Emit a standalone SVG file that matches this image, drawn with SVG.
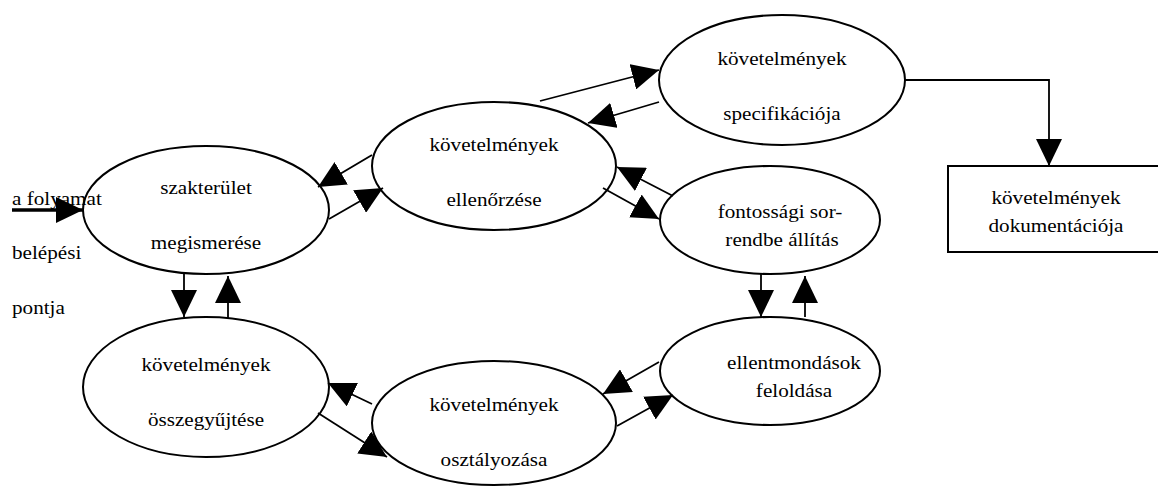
<svg xmlns="http://www.w3.org/2000/svg" width="1158" height="486" viewBox="0 0 1158 486">
  <style>
    .shape { fill: #fff; stroke: #000; stroke-width: 2; }
    text { font-family: 'Liberation Serif', 'Times New Roman', Times, serif; font-size: 19.5px; fill: #000; }
    .lbl { text-anchor: middle; }
    .conn { fill: none; stroke: #000; stroke-width: 1.8; marker-end: url(#head); }
  </style>
  <defs>
    <marker id="head" markerUnits="userSpaceOnUse" markerWidth="27" markerHeight="26" refX="27" refY="13" orient="auto">
      <path d="M0,0 L27,13 L0,26 z" fill="#000"/>
    </marker>
  </defs>
  <rect width="1158" height="486" fill="#fff"/>

  <!-- process steps -->
  <g id="domain">
    <ellipse class="shape" cx="206" cy="210" rx="123" ry="64"/>
    <text class="lbl" transform="translate(206,194) scale(1.085 1)">szakterület</text>
    <text class="lbl" transform="translate(206,249) scale(1.085 1)">megismerése</text>
  </g>
  <g id="validation">
    <ellipse class="shape" cx="494" cy="166" rx="122" ry="64"/>
    <text class="lbl" transform="translate(494,151) scale(1.085 1)">követelmények</text>
    <text class="lbl" transform="translate(494,206) scale(1.085 1)">ellenőrzése</text>
  </g>
  <g id="specification">
    <ellipse class="shape" cx="782" cy="80" rx="123" ry="65"/>
    <text class="lbl" transform="translate(782,65) scale(1.085 1)">követelmények</text>
    <text class="lbl" transform="translate(782,120) scale(1.085 1)">specifikációja</text>
  </g>
  <g id="prioritization">
    <ellipse class="shape" cx="770" cy="220" rx="110" ry="54"/>
    <text class="lbl" transform="translate(780,218) scale(1.085 1)">fontossági sor-</text>
    <text class="lbl" transform="translate(782,246) scale(1.085 1)">rendbe állítás</text>
  </g>
  <g id="conflicts">
    <ellipse class="shape" cx="770" cy="371" rx="110" ry="54"/>
    <text class="lbl" transform="translate(794,369) scale(1.085 1)">ellentmondások</text>
    <text class="lbl" transform="translate(794,397) scale(1.085 1)">feloldása</text>
  </g>
  <g id="collection">
    <ellipse class="shape" cx="206" cy="387" rx="123" ry="70"/>
    <text class="lbl" transform="translate(206,371) scale(1.085 1)">követelmények</text>
    <text class="lbl" transform="translate(206,426) scale(1.085 1)">összegyűjtése</text>
  </g>
  <g id="classification">
    <ellipse class="shape" cx="494" cy="423" rx="122" ry="62"/>
    <text class="lbl" transform="translate(494,411) scale(1.085 1)">követelmények</text>
    <text class="lbl" transform="translate(494,466) scale(1.085 1)">osztályozása</text>
  </g>
  <g id="documentation">
    <rect class="shape" x="948" y="166" width="220" height="86"/>
    <text class="lbl" transform="translate(1056,204) scale(1.085 1)">követelmények</text>
    <text class="lbl" transform="translate(1056,232) scale(1.085 1)">dokumentációja</text>
  </g>

  <!-- entry point label, drawn above the first step -->
  <g id="entry">
    <text transform="translate(12,205) scale(1.085 1)">a folyamat</text>
    <text transform="translate(12,259) scale(1.085 1)">belépési</text>
    <text transform="translate(12,314) scale(1.085 1)">pontja</text>
  </g>

  <!-- flows between steps -->
  <g id="connectors">
    <line class="conn" x1="12" y1="210" x2="83" y2="210" style="stroke-width:3.5"/>
    <line class="conn" x1="329" y1="219" x2="383" y2="188"/>
    <line class="conn" x1="372" y1="155" x2="318" y2="187"/>
    <line class="conn" x1="540" y1="101" x2="659" y2="70"/>
    <line class="conn" x1="659" y1="102" x2="588" y2="123"/>
    <line class="conn" x1="603" y1="188" x2="659" y2="219"/>
    <line class="conn" x1="673" y1="196" x2="617" y2="167"/>
    <line class="conn" x1="761" y1="274" x2="761" y2="317"/>
    <line class="conn" x1="805" y1="317" x2="805" y2="276"/>
    <line class="conn" x1="659" y1="362" x2="603" y2="394"/>
    <line class="conn" x1="617" y1="426" x2="673" y2="395"/>
    <line class="conn" x1="372" y1="404" x2="328" y2="383"/>
    <line class="conn" x1="318" y1="413" x2="387" y2="457"/>
    <line class="conn" x1="184" y1="274" x2="184" y2="317"/>
    <line class="conn" x1="228" y1="318" x2="228" y2="276"/>
    <polyline class="conn" points="905,80 1049,80 1049,166"/>
  </g>
</svg>
